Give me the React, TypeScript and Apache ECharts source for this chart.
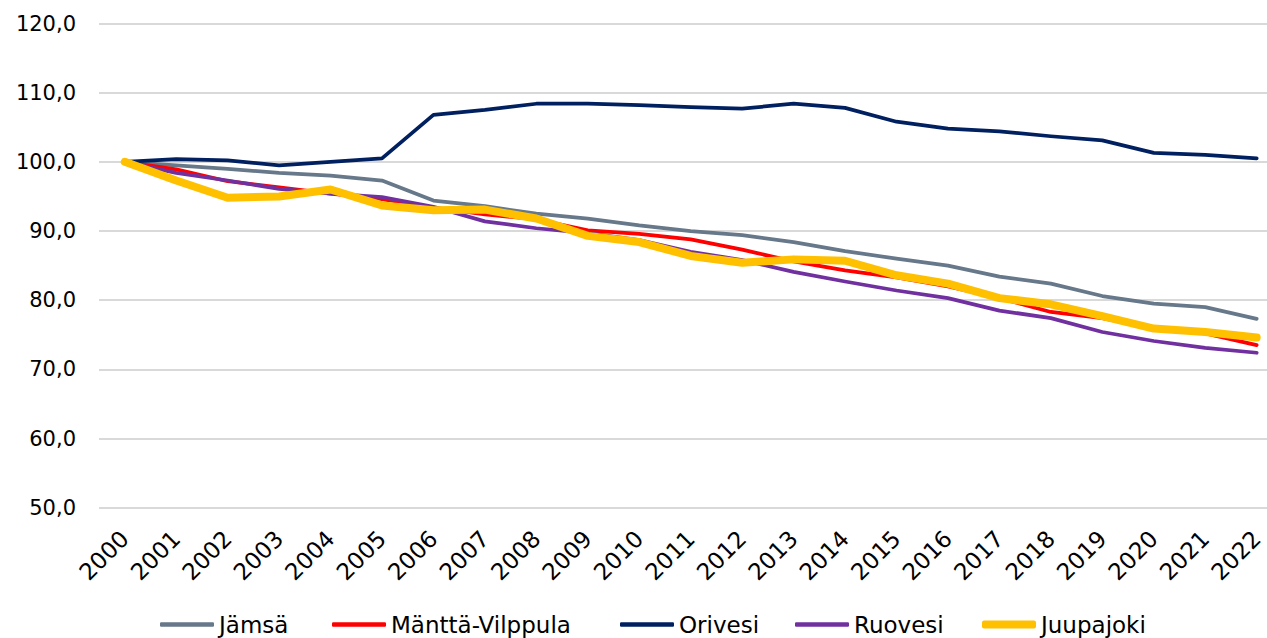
import React, { useEffect, useRef } from "react";
import * as echarts from "echarts";

const years = ["2000","2001","2002","2003","2004","2005","2006","2007","2008","2009","2010","2011","2012","2013","2014","2015","2016","2017","2018","2019","2020","2021","2022"];
const jamsa = [100.0, 99.5, 99.0, 98.4, 98.0, 97.3, 94.4, 93.6, 92.5, 91.8, 90.8, 90.0, 89.4, 88.4, 87.1, 86.0, 85.0, 83.4, 82.4, 80.6, 79.5, 79.0, 77.3];
const mantta = [100.0, 98.9, 97.2, 96.3, 95.4, 94.6, 93.4, 92.4, 91.7, 90.1, 89.6, 88.8, 87.3, 85.6, 84.3, 83.3, 82.0, 80.3, 78.3, 77.4, 75.9, 75.2, 73.5];
const orivesi = [100.0, 100.4, 100.2, 99.5, 100.0, 100.5, 106.8, 107.5, 108.4, 108.4, 108.2, 107.9, 107.7, 108.4, 107.8, 105.8, 104.8, 104.4, 103.7, 103.1, 101.3, 101.0, 100.5];
const ruovesi = [100.0, 98.4, 97.3, 96.1, 95.4, 94.9, 93.5, 91.4, 90.4, 89.7, 88.7, 87.0, 85.8, 84.1, 82.7, 81.4, 80.3, 78.5, 77.4, 75.4, 74.1, 73.1, 72.4];
const juupajoki = [100.0, 97.3, 94.8, 95.0, 96.0, 93.7, 93.0, 93.1, 91.8, 89.3, 88.4, 86.4, 85.4, 85.9, 85.7, 83.6, 82.4, 80.3, 79.4, 77.7, 75.9, 75.4, 74.6];

const seriesNames = ["Jämsä", "Mänttä-Vilppula", "Orivesi", "Ruovesi", "Juupajoki"];
const seriesData = [jamsa, mantta, orivesi, ruovesi, juupajoki];
const seriesColors = ["#667889", "#FF0000", "#002060", "#7030A0", "#FFC000"];
const seriesWidths = [3.75, 3.75, 3.75, 3.75, 8];
const legendLefts = [160, 332, 620, 795, 982];
const legendIconHeights = [4.5, 4.5, 4.5, 4.5, 8];

const FONT = "DejaVu Sans";

export default function App() {
  const ref = useRef<HTMLDivElement>(null);
  useEffect(() => {
    if (!ref.current) return;
    const chart = echarts.init(ref.current, null, { renderer: "svg" });
    chart.setOption({
      animation: false,
      backgroundColor: "#ffffff",
      textStyle: { fontFamily: FONT },
      grid: { left: 99, width: 1183.4, top: 23.5, bottom: 130.3, outerBoundsMode: "none", containLabel: false },
      xAxis: {
        type: "category",
        data: years,
        boundaryGap: true,
        axisLine: { show: false },
        axisTick: { show: false },
        axisLabel: { rotate: 45, margin: 27, fontSize: 23, color: "#000", fontFamily: FONT, interval: 0 },
      },
      yAxis: {
        type: "value",
        min: 50,
        max: 120,
        interval: 10,
        axisLine: { show: false },
        axisTick: { show: false },
        splitLine: { lineStyle: { color: "#D9D9D9", width: 2 } },
        axisLabel: {
          fontSize: 21,
          color: "#000",
          margin: 23,
          fontFamily: FONT,
          formatter: (v: number) => v.toFixed(1).replace(".", ","),
        },
      },
      legend: seriesNames.map((name, i) => ({
        left: legendLefts[i],
        top: 613,
        padding: 0,
        itemWidth: 54,
        itemHeight: legendIconHeights[i],
        itemGap: 0,
        icon: "roundRect",
        textStyle: { fontSize: 23, lineHeight: 20, color: "#000", fontFamily: FONT },
        data: [{ name, icon: "roundRect", itemStyle: { color: seriesColors[i] } }],
      })),
      series: seriesNames.map((name, i) => ({
        name,
        type: "line",
        data: seriesData[i],
        showSymbol: false,
        symbol: "none",
        lineStyle: { color: seriesColors[i], width: seriesWidths[i], cap: "round", join: "round" },
        itemStyle: { color: seriesColors[i] },
      })),
    });
    return () => chart.dispose();
  }, []);
  return <div ref={ref} style={{ position: "fixed", left: 0, top: 0, width: 1267, height: 638 }} />;
}
